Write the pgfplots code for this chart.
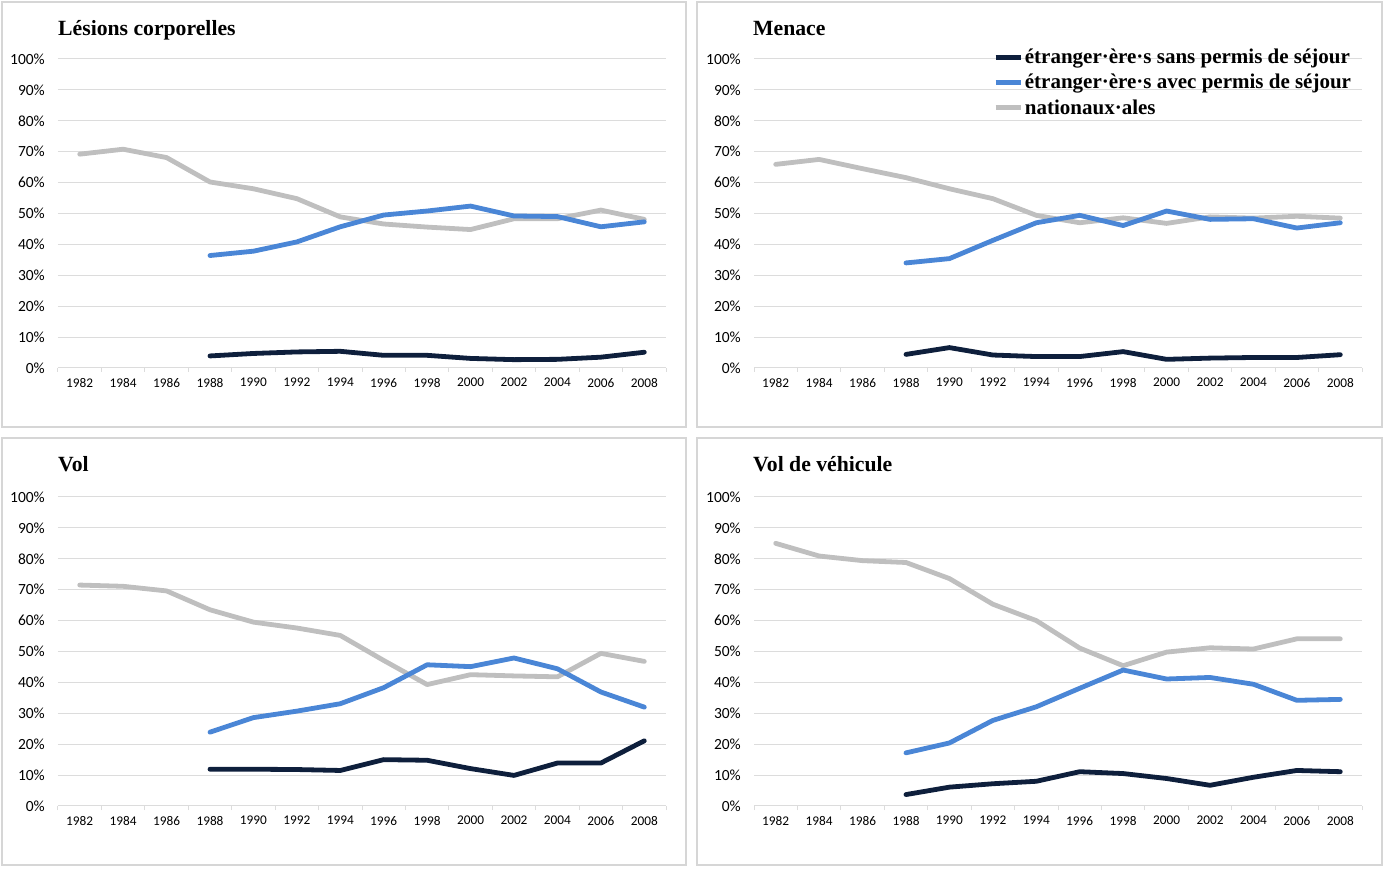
\documentclass[border=0pt]{standalone}
\usepackage{fontspec}
\setmainfont{Liberation Serif}
\newfontfamily\carlito{Carlito}
\usepackage{pgfplots}
\pgfplotsset{compat=1.18}
\definecolor{cdark}{HTML}{0E1F3C}
\definecolor{cblue}{HTML}{4A86D6}
\definecolor{cgray}{HTML}{BFBFBF}
\definecolor{cgrid}{HTML}{DCDCDC}
\definecolor{cframe}{HTML}{D6D6D6}
\pgfplotsset{
  panel/.style={
    scale only axis, width=608pt, height=309pt, anchor=south west,
    xmin=1981, xmax=2009, ymin=0, ymax=100,
    axis x line*=bottom, axis y line*=left,
    x axis line style={draw=cgrid, line width=1pt, -},
    y axis line style={draw=none},
    xtick={1982,1984,...,2008},
    xticklabels={1982,1984,1986,1988,1990,1992,1994,1996,1998,2000,2002,2004,2006,2008},
    minor xtick={1981,1983,...,2009},
    major tick length=0pt, minor tick length=4pt, tick align=outside,
    minor tick style={draw=cgrid, line width=1pt},
    ytick={0,10,...,100},
    yticklabels={0\%,10\%,20\%,30\%,40\%,50\%,60\%,70\%,80\%,90\%,100\%},
    ymajorgrids, grid style={draw=cgrid, line width=1pt},
    xticklabel style={font=\carlito\fontsize{13.3}{13.3}\selectfont, inner sep=0pt, anchor=north, yshift=-10pt},
    yticklabel style={font=\carlito\fontsize{15.5}{15.5}\selectfont, inner sep=0pt, anchor=east, xshift=-13pt},
  },
  gr/.style={cgray, line width=4.8pt, line join=round, line cap=round},
  bl/.style={cblue, line width=4.8pt, line join=round, line cap=round},
  dk/.style={cdark, line width=4.8pt, line join=round, line cap=round},
}
\begin{document}
\begin{tikzpicture}
\useasboundingbox (0pt,0pt) rectangle (1385pt,868pt);
% frames
\draw[cframe, line width=1.5pt] (2pt,866pt) rectangle (686pt,441pt);
\draw[cframe, line width=1.5pt] (697pt,866pt) rectangle (1382pt,441pt);
\draw[cframe, line width=1.5pt] (2pt,430pt) rectangle (686pt,3pt);
\draw[cframe, line width=1.5pt] (697pt,430pt) rectangle (1382pt,3pt);
% titles
\node[anchor=base west, inner sep=0pt, font=\bfseries\fontsize{21.7}{22}\selectfont] at (58pt,832pt) {Lésions corporelles};
\node[anchor=base west, inner sep=0pt, font=\bfseries\fontsize{21.7}{22}\selectfont] at (753pt,832pt) {Menace};
\node[anchor=base west, inner sep=0pt, font=\bfseries\fontsize{21.7}{22}\selectfont] at (58pt,396pt) {Vol};
\node[anchor=base west, inner sep=0pt, font=\bfseries\fontsize{21.7}{22}\selectfont] at (753pt,396pt) {Vol de véhicule};

% Panel 1: Lésions corporelles
\begin{axis}[panel, at={(58pt,500pt)}]
\addplot[gr] coordinates {(1982,69.2)(1984,70.8)(1986,68.1)(1988,60.2)(1990,58.0)(1992,54.8)(1994,48.9)(1996,46.6)(1998,45.6)(2000,44.8)(2002,48.3)(2004,48.3)(2006,51.1)(2008,48.1)};
\addplot[bl] coordinates {(1988,36.4)(1990,37.8)(1992,40.8)(1994,45.7)(1996,49.5)(1998,50.8)(2000,52.4)(2002,49.2)(2004,49.0)(2006,45.7)(2008,47.3)};
\addplot[dk] coordinates {(1988,3.9)(1990,4.7)(1992,5.2)(1994,5.4)(1996,4.1)(1998,4.1)(2000,3.1)(2002,2.7)(2004,2.8)(2006,3.5)(2008,5.1)};
\end{axis}

% Panel 2: Menace
\begin{axis}[panel, at={(754pt,500pt)},
  legend style={at={(0.388,1.045)}, anchor=north west, draw=none, fill=none,
    font=\bfseries\fontsize{21}{21}\selectfont, row sep=5pt},
  legend cell align=left,
  legend image code/.code={\draw[#1, line cap=butt] (0pt,0pt) -- (25pt,0pt);}]
\addlegendimage{dk}
\addlegendentry{étranger·ère·s sans permis de séjour}
\addlegendimage{bl}
\addlegendentry{étranger·ère·s avec permis de séjour}
\addlegendimage{gr}
\addlegendentry{nationaux·ales}
\addplot[gr, forget plot] coordinates {(1982,65.9)(1984,67.5)(1986,64.5)(1988,61.6)(1990,58.0)(1992,54.8)(1994,49.4)(1996,47.0)(1998,48.6)(2000,46.8)(2002,48.9)(2004,48.5)(2006,49.1)(2008,48.5)};
\addplot[bl, forget plot] coordinates {(1988,34.0)(1990,35.4)(1992,41.3)(1994,47.0)(1996,49.4)(1998,46.1)(2000,50.8)(2002,48.1)(2004,48.3)(2006,45.3)(2008,47.0)};
\addplot[dk, forget plot] coordinates {(1988,4.4)(1990,6.6)(1992,4.2)(1994,3.7)(1996,3.7)(1998,5.3)(2000,2.8)(2002,3.2)(2004,3.4)(2006,3.4)(2008,4.3)};
\end{axis}

% Panel 3: Vol
\begin{axis}[panel, at={(58pt,62pt)}]
\addplot[gr] coordinates {(1982,71.5)(1984,71.1)(1986,69.6)(1988,63.5)(1990,59.5)(1992,57.6)(1994,55.2)(1996,47.1)(1998,39.3)(2000,42.5)(2002,42.1)(2004,41.8)(2006,49.4)(2008,46.8)};
\addplot[bl] coordinates {(1988,23.9)(1990,28.6)(1992,30.7)(1994,33.1)(1996,38.3)(1998,45.7)(2000,45.1)(2002,47.9)(2004,44.4)(2006,36.9)(2008,32.0)};
\addplot[dk] coordinates {(1988,11.9)(1990,11.9)(1992,11.8)(1994,11.5)(1996,15.0)(1998,14.8)(2000,12.1)(2002,9.9)(2004,13.9)(2006,13.9)(2008,21.1)};
\end{axis}

% Panel 4: Vol de véhicule
\begin{axis}[panel, at={(754pt,62pt)}]
\addplot[gr] coordinates {(1982,85.0)(1984,80.9)(1986,79.4)(1988,78.8)(1990,73.6)(1992,65.3)(1994,60.0)(1996,51.1)(1998,45.4)(2000,49.8)(2002,51.2)(2004,50.8)(2006,54.1)(2008,54.1)};
\addplot[bl] coordinates {(1988,17.2)(1990,20.4)(1992,27.7)(1994,32.1)(1996,38.1)(1998,44.0)(2000,41.1)(2002,41.6)(2004,39.4)(2006,34.2)(2008,34.5)};
\addplot[dk] coordinates {(1988,3.7)(1990,6.1)(1992,7.2)(1994,8.0)(1996,11.1)(1998,10.5)(2000,8.9)(2002,6.7)(2004,9.3)(2006,11.5)(2008,11.1)};
\end{axis}
\end{tikzpicture}
\end{document}
